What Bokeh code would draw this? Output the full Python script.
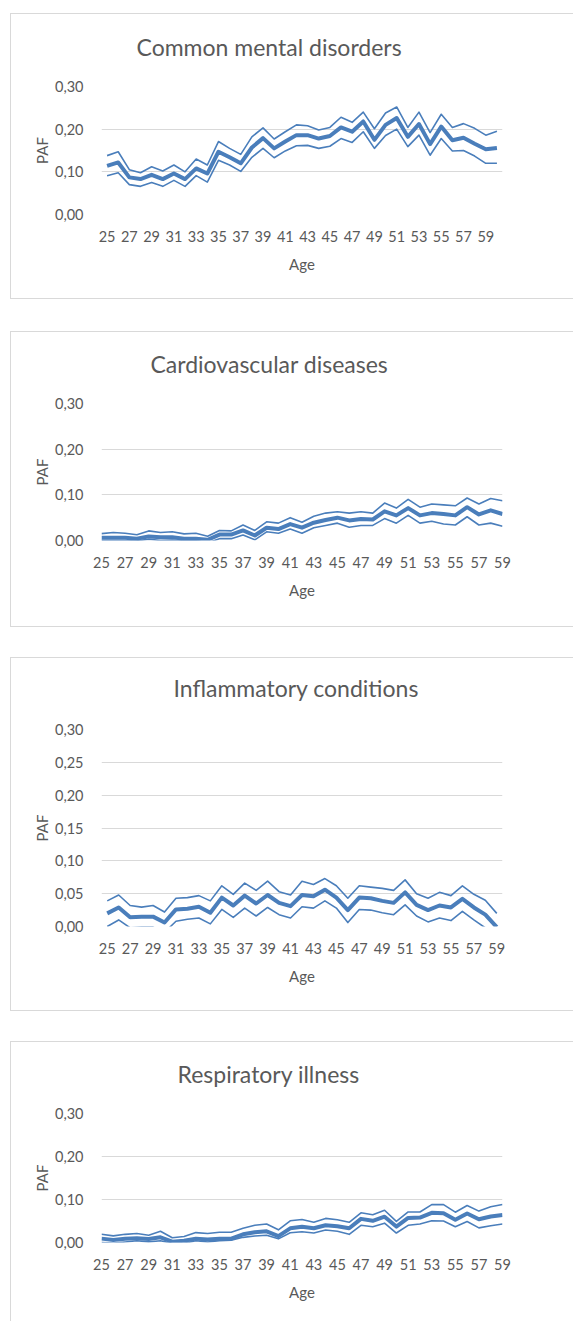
from bokeh.plotting import figure
from bokeh.layouts import column
from bokeh.models import FixedTicker, CustomJSTickFormatter, Range1d, Title
from bokeh.embed import file_html
from bokeh.resources import INLINE

# ---------------- data ----------------
ages_36 = list(range(25, 61))
ages_35 = list(range(25, 60))
x_tick_labels = list(range(25, 60, 2))

cmd_paf = [0.114, 0.122, 0.087, 0.083, 0.093, 0.083, 0.096, 0.083, 0.108, 0.096,
           0.147, 0.134, 0.120, 0.157, 0.179, 0.155, 0.171, 0.186, 0.186, 0.178,
           0.184, 0.204, 0.194, 0.218, 0.175, 0.210, 0.226, 0.182, 0.212, 0.165,
           0.206, 0.174, 0.180, 0.166, 0.153, 0.156]
cmd_upper = [0.138, 0.147, 0.105, 0.098, 0.112, 0.102, 0.116, 0.100, 0.130, 0.116,
             0.171, 0.155, 0.141, 0.182, 0.203, 0.177, 0.194, 0.210, 0.208, 0.198,
             0.204, 0.228, 0.216, 0.240, 0.201, 0.238, 0.252, 0.204, 0.240, 0.192,
             0.235, 0.204, 0.213, 0.202, 0.186, 0.195]
cmd_lower = [0.091, 0.098, 0.070, 0.066, 0.075, 0.066, 0.080, 0.066, 0.091, 0.076,
             0.127, 0.116, 0.101, 0.134, 0.155, 0.133, 0.149, 0.161, 0.162, 0.155,
             0.160, 0.178, 0.169, 0.194, 0.155, 0.185, 0.200, 0.159, 0.186, 0.139,
             0.178, 0.149, 0.150, 0.137, 0.120, 0.120]

cvd_paf = [0.006, 0.006, 0.006, 0.004, 0.009, 0.007, 0.007, 0.004, 0.004, 0.0015,
           0.013, 0.013, 0.022, 0.011, 0.028, 0.025, 0.036, 0.028, 0.039, 0.045,
           0.050, 0.044, 0.047, 0.046, 0.064, 0.055, 0.071, 0.055, 0.060, 0.058,
           0.055, 0.073, 0.057, 0.066, 0.058]
cvd_upper = [0.015, 0.0175, 0.016, 0.0125, 0.021, 0.0175, 0.019, 0.0145, 0.016, 0.0095,
             0.022, 0.021, 0.034, 0.022, 0.041, 0.038, 0.050, 0.040, 0.053, 0.060,
             0.063, 0.060, 0.063, 0.060, 0.082, 0.071, 0.090, 0.073, 0.080, 0.078,
             0.076, 0.093, 0.080, 0.092, 0.087]
cvd_lower = [0.000, 0.000, 0.000, -0.001, 0.003, 0.000, 0.001, -0.001, -0.001, -0.005,
             0.004, 0.004, 0.012, 0.0015, 0.019, 0.016, 0.025, 0.016, 0.028, 0.033,
             0.038, 0.029, 0.033, 0.033, 0.048, 0.038, 0.055, 0.038, 0.042, 0.036,
             0.034, 0.052, 0.034, 0.038, 0.031]

inf_paf = [0.020, 0.029, 0.014, 0.015, 0.015, 0.006, 0.026, 0.027, 0.030, 0.021,
           0.044, 0.032, 0.047, 0.035, 0.048, 0.036, 0.031, 0.048, 0.046, 0.056,
           0.044, 0.025, 0.044, 0.043, 0.039, 0.036, 0.052, 0.033, 0.025, 0.032,
           0.029, 0.042, 0.029, 0.018, -0.001]
inf_upper = [0.039, 0.048, 0.032, 0.0295, 0.032, 0.022, 0.043, 0.044, 0.047, 0.039,
             0.062, 0.049, 0.066, 0.055, 0.069, 0.053, 0.048, 0.069, 0.064, 0.073,
             0.062, 0.043, 0.062, 0.060, 0.058, 0.055, 0.071, 0.050, 0.043, 0.052,
             0.047, 0.062, 0.049, 0.040, 0.020]
inf_lower = [0.000, 0.010, -0.002, -0.001, -0.001, -0.009, 0.008, 0.011, 0.013, 0.004,
             0.026, 0.014, 0.028, 0.016, 0.029, 0.018, 0.013, 0.030, 0.028, 0.039,
             0.028, 0.006, 0.026, 0.025, 0.021, 0.018, 0.033, 0.016, 0.007, 0.013,
             0.009, 0.023, 0.010, -0.002, -0.019]

resp_paf = [0.009, 0.006, 0.0085, 0.010, 0.008, 0.012, 0.002, 0.004, 0.009, 0.007,
            0.0085, 0.009, 0.019, 0.024, 0.026, 0.015, 0.033, 0.0365, 0.033, 0.040,
            0.038, 0.033, 0.055, 0.0505, 0.060, 0.037, 0.057, 0.058, 0.069, 0.068,
            0.053, 0.0675, 0.054, 0.0605, 0.064]
resp_upper = [0.019, 0.0155, 0.019, 0.021, 0.017, 0.026, 0.011, 0.014, 0.023, 0.021,
              0.024, 0.024, 0.033, 0.040, 0.043, 0.0295, 0.0505, 0.0535, 0.047, 0.056,
              0.053, 0.047, 0.069, 0.0645, 0.075, 0.049, 0.071, 0.071, 0.088, 0.088,
              0.0705, 0.086, 0.073, 0.083, 0.0885]
resp_lower = [0.000, -0.0015, 0.001, 0.004, 0.0015, 0.004, -0.002, -0.002, 0.004, 0.001,
              0.004, 0.0055, 0.012, 0.015, 0.017, 0.0085, 0.0225, 0.025, 0.022, 0.029,
              0.026, 0.019, 0.040, 0.0365, 0.045, 0.022, 0.040, 0.043, 0.0505, 0.050,
              0.0365, 0.049, 0.034, 0.039, 0.043]

y_ticks_10 = [0.0, 0.1, 0.2, 0.3]
y_ticks_05 = [0.0, 0.05, 0.10, 0.15, 0.20, 0.25, 0.30]

# ---------------- styling ----------------
FONT = "Lato"
TEXT = "#595959"
GRID = "#D9D9D9"
BLUE = "#4A7EBB"


def panel(title, ages, mid, lo, hi, x_rng, y_ticks, height, borders,
          title_offset, title_gap, margin, styles):
    left, right, top, bottom = borders
    p = figure(width=563, height=height, output_backend="svg", toolbar_location=None,
               x_range=Range1d(*x_rng), y_range=Range1d(0, 0.30),
               min_border_left=left, min_border_right=right,
               min_border_top=top, min_border_bottom=bottom,
               margin=margin, styles=styles)
    p.outline_line_color = None
    p.background_fill_color = "white"
    p.border_fill_color = "white"

    # real chart title (placed outermost)
    p.title.text = title
    p.title.align = "left"
    p.title.offset = title_offset
    p.title.standoff = 0
    p.title.text_font = FONT
    p.title.text_font_size = "23px"
    p.title.text_font_style = "normal"
    p.title.text_color = TEXT
    # (almost) invisible spacer between the title and the plot area
    p.add_layout(Title(text=" ", text_font_size="1px", standoff=title_gap), "above")

    for ax in (p.xaxis[0], p.yaxis[0]):
        ax.axis_line_color = None
        ax.major_tick_line_color = None
        ax.minor_tick_line_color = None
        ax.major_label_text_font = FONT
        ax.major_label_text_font_size = "14.5px"
        ax.major_label_text_color = TEXT
        ax.axis_label_text_font = FONT
        ax.axis_label_text_font_size = "15px"
        ax.axis_label_text_font_style = "normal"
        ax.axis_label_text_color = TEXT

    p.xaxis.ticker = FixedTicker(ticks=x_tick_labels)
    p.xaxis.axis_label = "Age"
    p.xaxis.major_label_standoff = 10
    p.xaxis.axis_label_standoff = 10

    p.yaxis.ticker = FixedTicker(ticks=y_ticks)
    p.yaxis.formatter = CustomJSTickFormatter(code="return tick.toFixed(2).replace('.', ',');")
    p.yaxis.axis_label = "PAF"
    p.yaxis.major_label_standoff = 12
    p.yaxis.axis_label_standoff = 1

    p.xgrid.visible = False
    p.ygrid.grid_line_color = GRID
    p.ygrid.grid_line_width = 1

    p.line(ages, hi, line_color=BLUE, line_width=1.6, line_join="round")
    p.line(ages, lo, line_color=BLUE, line_width=1.6, line_join="round")
    p.line(ages, mid, line_color=BLUE, line_width=4, line_join="round")
    return p


box = {"border-top": "1px solid #D9D9D9", "border-left": "1px solid #D9D9D9",
       "border-bottom": "1px solid #D9D9D9"}
box_last = {"border-top": "1px solid #D9D9D9", "border-left": "1px solid #D9D9D9"}

p1 = panel("Common mental disorders", ages_36, cmd_paf, cmd_lower, cmd_upper,
           (24.5, 60.5), y_ticks_10, 286, (90, 64, 72, 86), 35, 23, (13, 0, 0, 10), box)
p2 = panel("Cardiovascular diseases", ages_35, cvd_paf, cvd_lower, cvd_upper,
           (25, 59), y_ticks_10, 296, (90, 71, 71, 88), 49, 23, (32, 0, 0, 10), box)
p3 = panel("Inflammatory conditions", ages_35, inf_paf, inf_lower, inf_upper,
           (24.5, 59.5), y_ticks_05, 354, (90, 64, 71, 86), 72, 25, (30, 0, 0, 10), box)
p4 = panel("Respiratory illness", ages_35, resp_paf, resp_lower, resp_upper,
           (25, 59), y_ticks_10, 280, (90, 72, 71, 80), 76, 23, (30, 0, 0, 10), box_last)

layout = column(p1, p2, p3, p4, spacing=0)
open("out.html", "w").write(file_html(layout, INLINE))
